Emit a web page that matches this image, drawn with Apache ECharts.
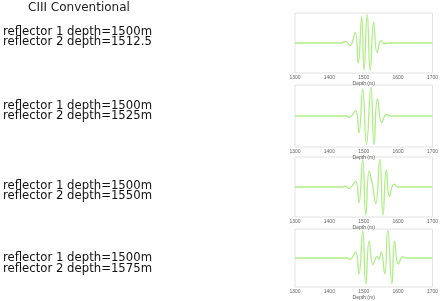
<!DOCTYPE html>
<html>
<head>
<meta charset="utf-8">
<script src="https://cdn.jsdelivr.net/npm/echarts@6/dist/echarts.min.js"></script>
<style>
html, body { margin: 0; padding: 0; background: #fff; }
#chart { width: 441px; height: 301px; }
</style>
</head>
<body>
<div id="chart"></div>
<script>
// 标题与文字
var titleText = 'CIII Conventional';
var reflector1 = [1500, 1500, 1500, 1500];
var reflector2 = ['1512.5', '1525m', '1550m', '1575m'];

// 横轴刻度
var depthTicks = [1300, 1400, 1500, 1600, 1700];

// 每道记录: 深度 / 振幅 (从图上读取的极值点)
var trace1Depth = [1300, 1436, 1446, 1460, 1475, 1484, 1494, 1501, 1510, 1519, 1529, 1539, 1551, 1561, 1571, 1700];
var trace1Amp   = [0, 0, 0.06, -0.09, 0.36, -0.7, 0.91, -0.96, 1.0, -0.96, 0.74, -0.33, 0.08, -0.03, 0, 0];

var trace2Depth = [1300, 1450, 1457, 1476, 1486, 1497, 1508, 1521, 1530, 1540, 1553, 1566, 1580, 1700];
var trace2Amp   = [0, 0, -0.05, 0.18, -0.57, 0.91, -0.97, 0.97, -0.97, 0.59, -0.22, 0.05, 0, 0];

var trace3Depth = [1300, 1441, 1446, 1457, 1476, 1486, 1497, 1506, 1516, 1525, 1535, 1547, 1556, 1566, 1575, 1588, 1599, 1700];
var trace3Amp   = [0, 0, 0.03, -0.05, 0.2, -0.55, 0.97, -0.98, 0.56, 0.11, -0.58, 0.97, -0.98, 0.61, -0.33, 0.1, 0, 0];

var trace4Depth = [1300, 1450, 1460, 1476, 1486, 1497, 1506, 1516, 1527, 1539, 1544, 1551, 1561, 1570, 1582, 1590, 1601, 1614, 1623, 1700];
var trace4Amp   = [0, 0, -0.05, 0.22, -0.58, 1.0, -0.94, 0.61, -0.24, 0.05, -0.04, 0.22, -0.58, 1.0, -0.94, 0.61, -0.22, 0.05, 0, 0];

var traces = [
	[trace1Depth, trace1Amp],
	[trace2Depth, trace2Amp],
	[trace3Depth, trace3Amp],
	[trace4Depth, trace4Amp]
];

// 版面
var gridTops = [13, 85, 157, 229];
var gridHeights = [60, 62, 60, 60];
var textCenters = [[33, 42.5], [106.5, 116.5], [186.5, 196.5], [259, 269.5]];

var myChart = echarts.init(document.getElementById('chart'));

var grids = [], xAxes = [], yAxes = [], series = [];
var graphics = [{
	type: 'text',
	left: 28,
	top: 2,
	style: { text: titleText, font: '12px "DejaVu Sans"', fill: '#222' }
}];

for (var i = 0; i < 4; i++) {
	grids.push({
		left: 295, width: 141, top: gridTops[i], height: gridHeights[i],
		show: true, borderColor: '#e2e2e2', borderWidth: 1
	});
	xAxes.push({
		gridIndex: i, type: 'value',
		min: depthTicks[0], max: depthTicks[depthTicks.length - 1], interval: 100,
		name: 'Depth (m)', nameLocation: 'middle', nameGap: 8,
		nameTextStyle: { fontSize: 5, color: '#555' },
		axisLine: { show: false }, axisTick: { show: false }, splitLine: { show: false },
		axisLabel: { fontSize: 5, color: '#666', margin: 2, formatter: function (v) { return String(v); } }
	});
	yAxes.push({
		gridIndex: i, type: 'value', min: -1.05, max: 1.05, show: false
	});
	var d = traces[i][0], a = traces[i][1], pts = [];
	for (var k = 0; k < d.length; k++) pts.push([d[k], a[k]]);
	series.push({
		type: 'line', xAxisIndex: i, yAxisIndex: i,
		data: pts, smooth: 0.5, symbol: 'none',
		lineStyle: { color: '#aeee84', width: 1.3 }
	});
	graphics.push({
		type: 'text', left: 3, top: textCenters[i][0] - 7,
		style: { text: 'reflector 1 depth=' + reflector1[i] + 'm', font: '11.7px "DejaVu Sans"', fill: '#111' }
	});
	graphics.push({
		type: 'text', left: 3, top: textCenters[i][1] - 7,
		style: { text: 'reflector 2 depth=' + reflector2[i], font: '11.7px "DejaVu Sans"', fill: '#111' }
	});
}

myChart.setOption({
	animation: false,
	grid: grids,
	xAxis: xAxes,
	yAxis: yAxes,
	series: series,
	graphic: graphics
});
</script>
</body>
</html>
